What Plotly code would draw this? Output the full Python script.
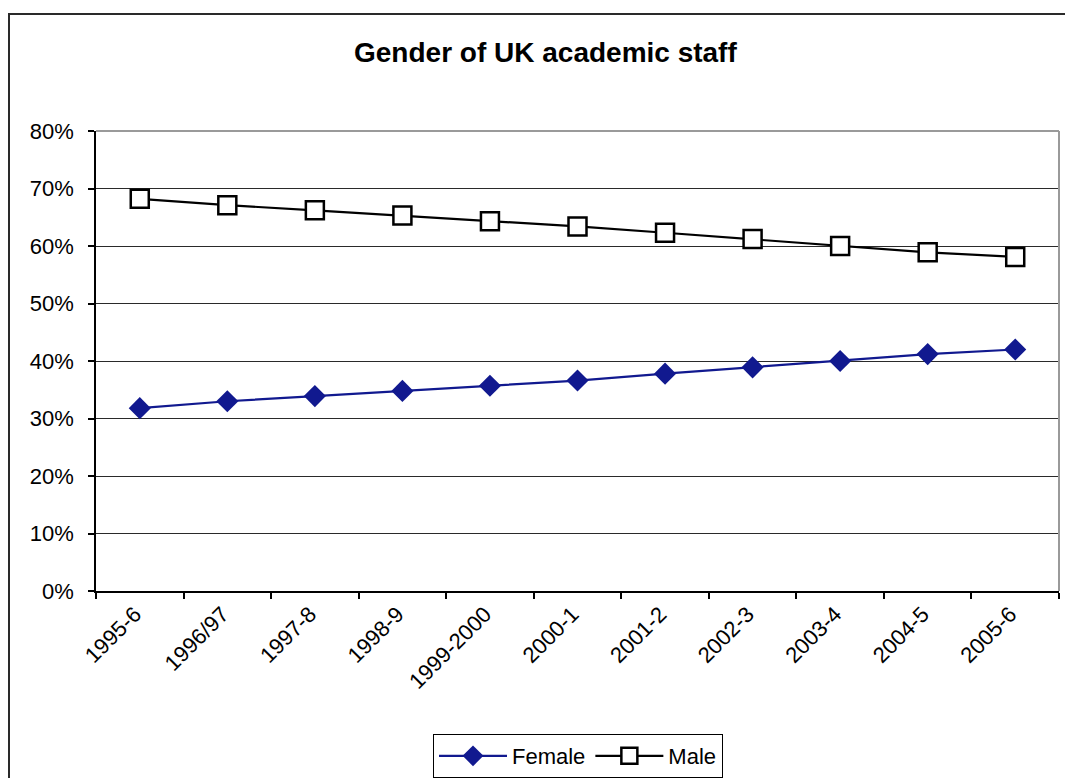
import plotly.graph_objects as go

years = ["1995-6", "1996/97", "1997-8", "1998-9", "1999-2000", "2000-1",
         "2001-2", "2002-3", "2003-4", "2004-5", "2005-6"]
female = [0.318, 0.330, 0.339, 0.348, 0.357, 0.366, 0.378, 0.389, 0.400, 0.412, 0.420]
male = [0.682, 0.671, 0.662, 0.653, 0.643, 0.634, 0.623, 0.612, 0.600, 0.589, 0.581]

W, H = 1065, 778
L, R, T, B = 96, 1059, 131, 591
pw, ph = R - L, B - T

def px(x):
    return (x - L) / pw

def py(y):
    return (B - y) / ph

FONT = "Liberation Sans, Arial, sans-serif"

fig = go.Figure()
fig.add_trace(go.Scatter(
    x=years, y=female, name="Female", mode="lines+markers",
    line=dict(color="#11198f", width=2.2),
    marker=dict(symbol="diamond", size=17, color="#11198f",
                line=dict(width=0)),
))
fig.add_trace(go.Scatter(
    x=years, y=male, name="Male", mode="lines+markers",
    line=dict(color="black", width=2.2),
    marker=dict(symbol="square", size=18, color="white",
                line=dict(color="black", width=2.5)),
))

fig.update_layout(
    width=W, height=H,
    margin=dict(l=L, r=W - R, t=T, b=H - B, autoexpand=False),
    paper_bgcolor="white", plot_bgcolor="white",
    font=dict(family=FONT, size=22, color="black"),
    showlegend=True,
    legend=dict(orientation="h", x=px(578), xanchor="center",
                y=py(756), yanchor="middle",
                bordercolor="black", borderwidth=1,
                font=dict(size=22), itemwidth=68,
                tracegroupgap=0, bgcolor="white"),
    annotations=[dict(text="<b>Gender of UK academic staff</b>",
                      xref="paper", yref="paper", x=px(545), y=py(52),
                      xanchor="center", yanchor="middle", showarrow=False,
                      font=dict(size=28, family=FONT))],
    shapes=[
        # outer chart border
        dict(type="rect", xref="paper", yref="paper",
             x0=px(9), x1=px(1080), y0=py(800), y1=py(14),
             line=dict(color="#2a2a2a", width=2), layer="below"),
        # plot area border (top and right, grey)
        dict(type="line", xref="paper", yref="paper",
             x0=0, x1=1, y0=1, y1=1,
             line=dict(color="#9a9a9a", width=2), layer="above"),
        dict(type="line", xref="paper", yref="paper",
             x0=1, x1=1, y0=0, y1=1,
             line=dict(color="#9a9a9a", width=2), layer="above"),
    ],
)

fig.update_xaxes(
    type="category", range=[-0.5, 10.5], automargin=False,
    showline=True, linecolor="black", linewidth=1.5,
    ticks="outside", tickson="boundaries", ticklen=6, tickcolor="black",
    tickwidth=1.5, tickangle=-45, showgrid=False, zeroline=False,
    ticklabelshift=-5, tickfont=dict(size=22),
)
fig.update_yaxes(
    range=[0, 0.8], dtick=0.1, tickformat=".0%", automargin=False,
    showline=True, linecolor="black", linewidth=1.5,
    ticks="outside", ticklen=6, tickcolor="black", tickwidth=1.5,
    showgrid=True, gridcolor="#2a2a2a", gridwidth=1, zeroline=False,
    ticklabelstandoff=10, tickfont=dict(size=22),
)

fig.write_html("out.html")
